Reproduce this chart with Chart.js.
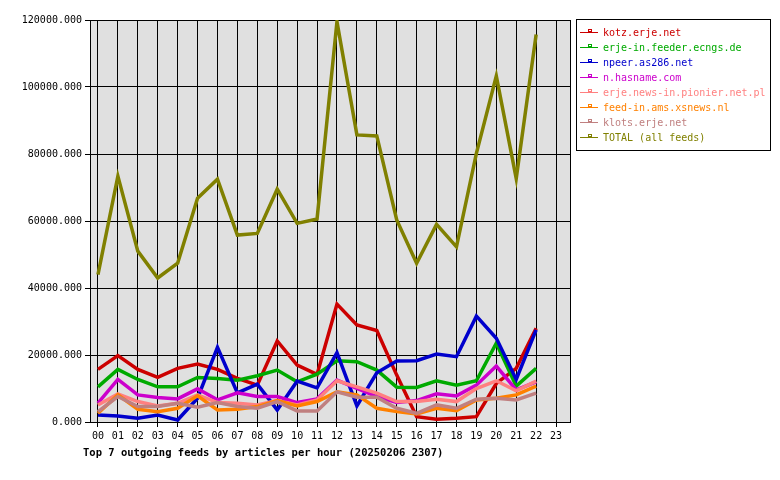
<!DOCTYPE html>
<html>
<head>
<meta charset="utf-8">
<script src="https://cdn.jsdelivr.net/npm/chart.js@4/dist/chart.umd.min.js"></script>
<style>
  body { margin: 0; background: #fff; }
</style>
</head>
<body>
<canvas id="grafico" width="780" height="480"></canvas>
<script>
// horas do eixo x
var horas = ['00','01','02','03','04','05','06','07','08','09','10','11',
             '12','13','14','15','16','17','18','19','20','21','22','23'];
var yTicks = [0, 20000, 40000, 60000, 80000, 100000, 120000];

var nomes = ['kotz.erje.net', 'erje-in.feeder.ecngs.de', 'npeer.as286.net', 'n.hasname.com',
             'erje.news-in.pionier.net.pl', 'feed-in.ams.xsnews.nl', 'klots.erje.net', 'TOTAL (all feeds)'];
var cores = ['#cc0000', '#00aa00', '#0000cc', '#cc00cc', '#ff8080', '#ff8000', '#c08080', '#808000'];

// artigos por hora, 00..22
var kotz    = [15700, 19800, 15700, 13300, 16000, 17300, 15700, 13000, 11000, 24200, 17000, 14200,
               35200, 29000, 27300, 14000, 1600, 800, 1100, 1600, 11500, 16000, 28000];
var ecngs   = [10500, 15700, 12700, 10500, 10500, 13300, 13000, 12500, 13800, 15500, 12000, 14300,
               18300, 18000, 15500, 10400, 10300, 12300, 11000, 12300, 23500, 10700, 16000];
var npeer   = [2100, 1800, 1100, 2100, 600, 7100, 22300, 8700, 11300, 3600, 12200, 10200,
               20700, 4800, 14700, 18200, 18300, 20300, 19500, 31600, 25000, 12700, 27500];
var hasname = [5600, 12700, 8100, 7300, 6900, 9900, 6600, 8700, 7600, 7600, 5800, 6900,
               12500, 10000, 7600, 5800, 6400, 8400, 7800, 11000, 16700, 9600, 12000];
var pionier = [5100, 8400, 6100, 4800, 5600, 8100, 5800, 5600, 5100, 6400, 5100, 6600,
               12300, 10500, 8600, 6100, 6100, 6800, 6100, 10000, 12300, 9300, 12200];
var xsnews  = [2600, 8100, 3800, 3100, 4100, 7800, 3600, 3800, 4600, 6400, 4800, 6100,
               9000, 8100, 4100, 3100, 2400, 4100, 3400, 6600, 7100, 8100, 10700];
var klots   = [3100, 7600, 4600, 4600, 5600, 4400, 5800, 4600, 4100, 6100, 3300, 3300,
               9000, 7400, 7400, 4100, 2600, 5100, 4100, 6800, 7100, 6600, 8600];
var total   = [44000, 73400, 51000, 43000, 47400, 66800, 72500, 55800, 56300, 69500, 59300, 60600,
               119500, 85700, 85400, 60300, 47400, 59000, 52300, 80200, 103300, 72700, 115700];

var series = [kotz, ecngs, npeer, hasname, pionier, xsnews, klots, total];
var titulo = 'Top 7 outgoing feeds by articles per hour (20250206 2307)';
var fonte = '"DejaVu Sans Mono", monospace';

function pontos(valores) {
    return valores.map(function (v, i) { return { x: i, y: v }; });
}

var datasets = series.map(function (valores, i) {
    return {
        label: nomes[i],
        data: pontos(valores),
        borderColor: cores[i],
        backgroundColor: cores[i],
        borderWidth: 3.5,
        pointRadius: 0,
        tension: 0,
        order: series.length - i
    };
});

// fundo cinza, moldura, legenda e titulo
var desenhoPlugin = {
    id: 'desenho',
    beforeDraw: function (chart) {
        var a = chart.chartArea;
        var ctx = chart.ctx;
        ctx.save();
        ctx.fillStyle = '#fff';
        ctx.fillRect(0, 0, chart.width, chart.height);
        ctx.fillStyle = '#e0e0e0';
        ctx.fillRect(a.left, a.top, a.right - a.left, a.bottom - a.top);
        ctx.restore();
    },
    beforeDatasetsDraw: function (chart) {
        var a = chart.chartArea;
        var ctx = chart.ctx;
        ctx.save();
        ctx.strokeStyle = '#000';
        ctx.lineWidth = 1;
        ctx.strokeRect(Math.round(a.left) + 0.5, Math.round(a.top) + 0.5,
                       Math.round(a.right - a.left), Math.round(a.bottom - a.top));
        ctx.restore();
    },
    afterDraw: function (chart) {
        var ctx = chart.ctx;
        ctx.save();
        ctx.strokeStyle = '#000';
        ctx.lineWidth = 1;
        ctx.strokeRect(576.5, 19.5, 194, 131);
        ctx.font = '10px ' + fonte;
        ctx.textBaseline = 'middle';
        chart.data.datasets.forEach(function (ds, i) {
            var y = Math.round(32 + i * 15);
            ctx.strokeStyle = ds.borderColor;
            ctx.beginPath();
            ctx.moveTo(580, y + 0.5);
            ctx.lineTo(598, y + 0.5);
            ctx.stroke();
            ctx.strokeRect(588.5, y - 2.5, 3, 2);
            ctx.fillStyle = ds.borderColor;
            ctx.fillText(ds.label, 603, y + 1);
        });
        ctx.fillStyle = '#000';
        ctx.font = 'bold 10.5px ' + fonte;
        ctx.fillText(titulo, 83, 453);
        ctx.restore();
    }
};

var ctx = document.getElementById('grafico').getContext('2d');
var grafico = new Chart(ctx, {
    type: 'line',
    data: { datasets: datasets },
    plugins: [desenhoPlugin],
    options: {
        responsive: false,
        animation: false,
        devicePixelRatio: 1,
        layout: { padding: { left: 0, top: 20, right: 210, bottom: 0 } },
        plugins: { legend: { display: false }, tooltip: { enabled: false } },
        scales: {
            x: {
                type: 'linear',
                min: -0.4,
                max: 23.7,
                afterFit: function (s) { s.height = 58; },
                afterBuildTicks: function (s) {
                    s.ticks = horas.map(function (h, i) { return { value: i }; });
                },
                grid: { color: '#000', lineWidth: 1, tickLength: 5 },
                border: { color: '#000', width: 1 },
                ticks: {
                    color: '#000',
                    padding: 3,
                    maxRotation: 0,
                    autoSkip: false,
                    font: { family: fonte, size: 10 },
                    callback: function (v) { return horas[v]; }
                }
            },
            y: {
                min: 0,
                max: 120000,
                afterFit: function (s) { s.width = 90; },
                afterBuildTicks: function (s) {
                    s.ticks = yTicks.map(function (v) { return { value: v }; });
                },
                grid: { color: '#000', lineWidth: 1, tickLength: 5 },
                border: { color: '#000', width: 1 },
                ticks: {
                    color: '#000',
                    padding: 3,
                    font: { family: fonte, size: 10 },
                    callback: function (v) { return v.toFixed(3); }
                }
            }
        }
    }
});
</script>
</body>
</html>
